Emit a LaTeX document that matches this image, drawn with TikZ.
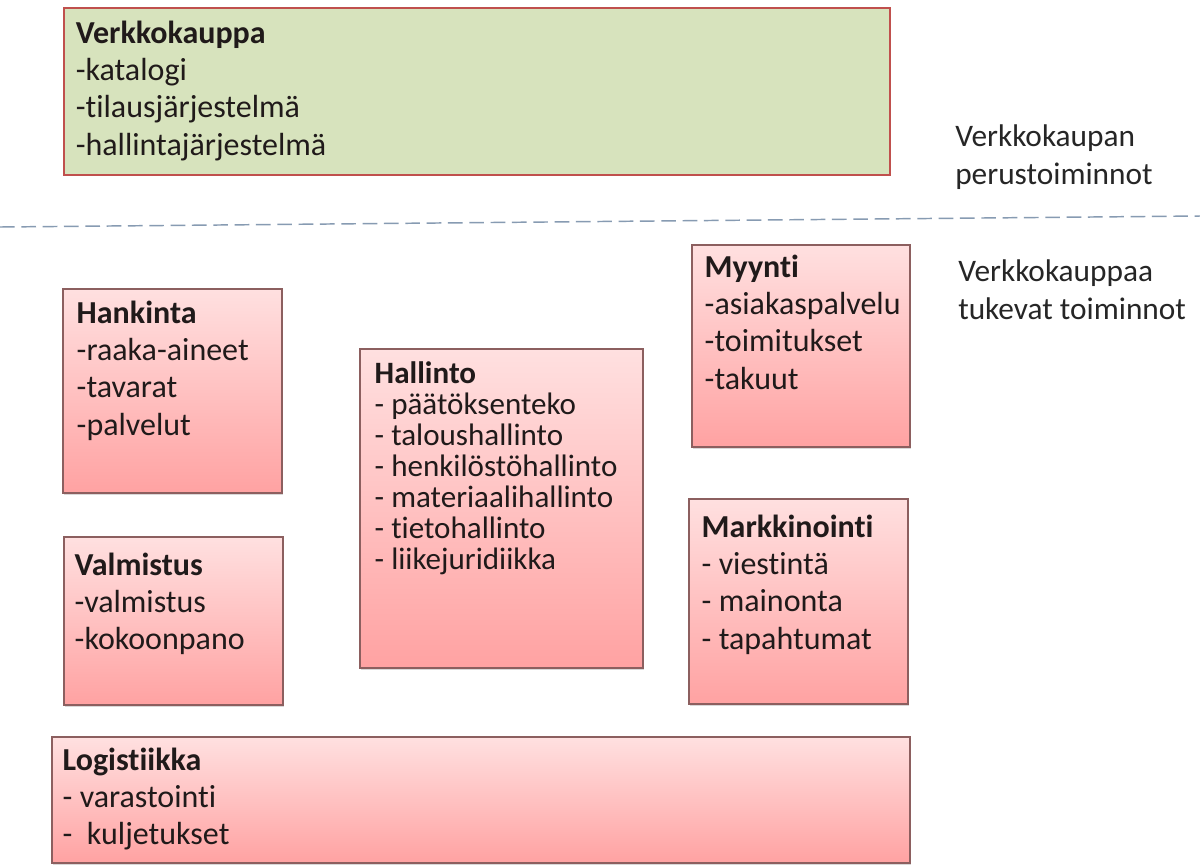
\documentclass[tikz,border=0pt]{standalone}
\usepackage{fontspec}
\setmainfont{Carlito}[Ligatures=NoCommon]
\usepackage{tikz}
\usetikzlibrary{positioning,fit,shadows}
\definecolor{shopgreen}{RGB}{215,227,189}
\definecolor{shopborder}{RGB}{192,80,77}
\definecolor{supporttop}{RGB}{255,224,224}
\definecolor{supportbottom}{RGB}{255,162,162}
\definecolor{supportborder}{RGB}{140,95,95}
\definecolor{dividerblue}{RGB}{135,155,178}
\definecolor{labeltext}{RGB}{32,26,26}

\tikzset{
    shopbox/.style={draw=shopborder, line width=2.2pt, fill=shopgreen, inner sep=0pt},
    supportbox/.style={draw=supportborder, line width=0.8pt, top color=supporttop,
        bottom color=supportbottom, inner sep=0pt,
        drop shadow={shadow xshift=1pt, shadow yshift=-1.5pt, opacity=0.25, fill=black!60}},
    boxtext/.style={anchor=north west, inner sep=0pt, align=left, text=labeltext,
        font=\fontsize{24}{28}\selectfont},
    smalltext/.style={boxtext, font=\fontsize{23.3}{23.2}\selectfont},
    sidetext/.style={boxtext, text=black!85, font=\fontsize{23.5}{28.5}\selectfont},
    divider/.style={dividerblue, line width=1.1pt, dash pattern=on 11pt off 5pt}
}

\begin{document}
\begin{tikzpicture}[x=0.75pt, y=-0.75pt]
    % Canvas in pixels of the original, 1200 x 865
    \fill[white] (0,0) rectangle (1200,865);
    \useasboundingbox (0,0) rectangle (1200,865);

    % Core functions
    \node[shopbox, fit={(64,8) (890,175)}] (verkkokauppa) {};
    \node[boxtext] (verkkokauppa-text) at ([shift={(13,14)}]verkkokauppa.north west)
        {\textbf{Verkkokauppa}\\-katalogi\\-tilausjärjestelmä\\-hallintajärjestelmä};

    % Divider between the two levels
    \draw[divider] (0,227) -- (1200,216);

    % Side labels
    \node[sidetext] (core-label) at (955,124) {Verkkokaupan\\perustoiminnot};
    \node[sidetext] (support-label) at (958,259) {Verkkokauppaa\\tukevat toiminnot};

    % Supporting functions
    \node[supportbox, fit={(63,289) (282,493)}] (hankinta) {};
    \node[boxtext] (hankinta-text) at ([shift={(14,12)}]hankinta.north west)
        {\textbf{Hankinta}\\-raaka-aineet\\-tavarat\\-palvelut};

    \node[supportbox, fit={(64,537) (283,705)}] (valmistus) {};
    \node[boxtext] (valmistus-text) at ([shift={(11,16)}]valmistus.north west)
        {\textbf{Valmistus}\\-valmistus\\-kokoonpano};

    \node[supportbox, fit={(360,349) (643,668)}] (hallinto) {};
    \node[smalltext] (hallinto-text) at ([shift={(15,13)}]hallinto.north west)
        {\textbf{Hallinto}\\- päätöksenteko\\- taloushallinto\\- henkilöstöhallinto\\- materiaalihallinto\\- tietohallinto\\- liikejuridiikka};

    \node[supportbox, fit={(692,245) (910,447)}] (myynti) {};
    \node[boxtext] (myynti-text) at ([shift={(13,10)}]myynti.north west)
        {\textbf{Myynti}\\-asiakaspalvelu\\-toimitukset\\-takuut};

    \node[supportbox, fit={(689,499) (908,704)}] (markkinointi) {};
    \node[boxtext] (markkinointi-text) at ([shift={(13,16)}]markkinointi.north west)
        {\textbf{Markkinointi}\\- viestintä\\- mainonta\\- tapahtumat};

    \node[supportbox, fit={(52,737) (910,863)}] (logistiikka) {};
    \node[boxtext] (logistiikka-text) at ([shift={(11,11)}]logistiikka.north west)
        {\textbf{Logistiikka}\\- varastointi\\-~~kuljetukset};
\end{tikzpicture}
\end{document}
